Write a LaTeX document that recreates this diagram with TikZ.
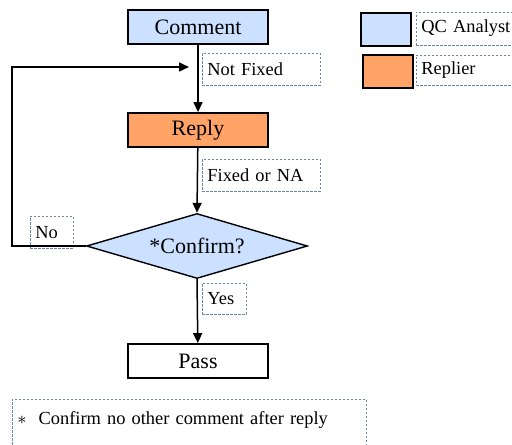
\documentclass[tikz,border=0pt]{standalone}
\usepackage{fontspec}
\setmainfont{Liberation Serif}
\usepackage{tikz}
\usetikzlibrary{arrows.meta, shapes.geometric, positioning}

\definecolor{analystblue}{RGB}{204,224,255}
\definecolor{replyorange}{RGB}{255,163,102}
\definecolor{tagline}{RGB}{105,135,165}

\begin{document}
\begin{tikzpicture}[
    x=0.5pt, y=-0.5pt,
    every node/.style={inner sep=0pt},
    stepbox/.style ={draw=black, line width=0.9pt, minimum width=70pt,
                     minimum height=17pt, font=\fontsize{11}{13}\selectfont},
    decision/.style={diamond, draw=black, line width=0.7pt, fill=analystblue,
                     minimum width=110.5pt, minimum height=32.5pt, aspect=3.4,
                     font=\fontsize{11}{13}\selectfont},
    swatch/.style  ={draw=black, line width=0.9pt, minimum width=25pt,
                     minimum height=16.5pt},
    tag/.style     ={draw=tagline, dashed, dash pattern=on 1.2pt off 0.8pt,
                     line width=0.4pt, fill=white, align=left,
                     inner xsep=2.5pt, font=\fontsize{9.2}{11}\selectfont},
    flow/.style    ={-{Triangle[length=5pt,width=4.5pt]}, line width=0.75pt},
  ]

  %% --- page frame -------------------------------------------------------
  \useasboundingbox (0,0) rectangle (512,444);

  %% --- main steps ---------------------------------------------------------
  \node[stepbox, fill=analystblue] (comment) at (198,27)  {Comment};
  \node[stepbox, fill=replyorange] (reply)   at (198,130) {Reply};
  \node[decision]                  (confirm) at (197,246) {*Confirm?};
  \node[stepbox, fill=white]       (pass)    at (198,361) {Pass};

  % connectors
  \draw[flow] (comment) -- (reply);
  \draw[flow] (reply) -- (confirm.north);
  \draw[flow] (confirm.south) -- (pass);

  % loop back from the decision
  \coordinate (loopdown) at (12,246);
  \coordinate (loopup)   at (12,67);
  \coordinate (loopend)  at (189,67);
  \draw[flow] (confirm.west) -- (loopdown) -- (loopup) -- (loopend);

  %% --- connector tags -----------------------------------------------------
  \node[tag, anchor=north west, text width=54pt, minimum height=16pt]
        (notfixed) at (202,53) {Not Fixed};
  \node[tag, anchor=north west, text width=54pt, minimum height=16pt]
        (fixedna)  at (202,159) {Fixed or NA};
  \node[tag, anchor=north west, text width=16.5pt, minimum height=16pt]
        (no)       at (30,216) {No};
  \node[tag, anchor=north west, text width=17pt, minimum height=15.5pt]
        (yes)      at (202,283) {Yes};
  % redraw the loop line over the "No" tag
  \draw[line width=0.75pt] (confirm.west) -- (loopdown);

  %% --- legend -------------------------------------------------------------
  \node[swatch, fill=analystblue, anchor=north west] (keyqc)    at (360,12) {};
  \node[swatch, fill=replyorange, anchor=north west] (keyreply) at (362,54) {};
  \node[tag, anchor=west, text width=50pt, minimum height=16.5pt]
        (qclabel)    at (416,28.5) {QC Analyst};
  \node[tag, anchor=west, text width=50pt, minimum height=15pt]
        (replylabel) at (416,70) {Replier};

  %% --- footnote -----------------------------------------------------------
  \node[tag, anchor=north west, text width=172pt, inner ysep=6pt,
        text depth=20pt] (footnote) at (12,399)
        {$\ast$\hspace{6pt}Confirm no other comment after reply};

\end{tikzpicture}
\end{document}
